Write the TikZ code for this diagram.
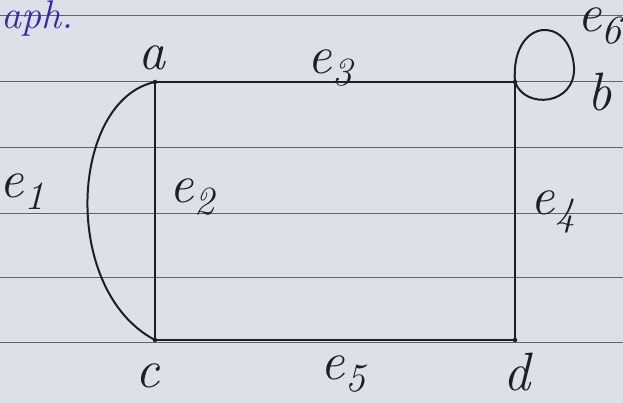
\documentclass[tikz,border=0pt]{standalone}
\usepackage{fontspec}
\definecolor{paper}{RGB}{220,225,233}
\definecolor{inkc}{RGB}{30,30,38}
\definecolor{rulec}{RGB}{95,100,110}
\definecolor{bluink}{RGB}{60,40,170}
\newcommand{\esub}[1]{e\raisebox{-0.22em}{\fontsize{40}{40}\selectfont #1}}
\begin{document}
\begin{tikzpicture}[x=1pt,y=-1pt,
  ink/.style={draw=inkc, line width=2pt},
  rule/.style={draw=rulec, line width=0.9pt},
  lbl/.style={text=inkc, inner sep=0pt, font=\fontsize{54}{54}\selectfont\itshape},
  vdot/.style={circle, fill=inkc, inner sep=0pt, minimum size=4.5pt}]
\useasboundingbox (0,0) rectangle (623,403);
\clip (0,0) rectangle (623,403);
\fill[paper] (0,0) rectangle (623,403);
% ruled lines
\foreach \yy in {15,81,147,213,277,342} \draw[rule] (0,\yy) -- (623,\yy);
% partial heading
\node[text=bluink, anchor=north west, inner sep=0pt, font=\fontsize{40}{40}\selectfont\itshape] (head) at (1,1) {aph.};
% vertices
\node[vdot] (a) at (155,82) {};
\node[vdot] (b) at (515,82) {};
\node[vdot] (c) at (155,340) {};
\node[vdot] (d) at (515,340) {};
% edges
\draw[ink] (a.center) .. controls (70,100) and (60,290) .. (c.center); % e1
\draw[ink] (a.center) -- (c.center); % e2
\draw[ink] (a.center) -- (b.center); % e3
\draw[ink] (b.center) -- (d.center); % e4
\draw[ink] (c.center) -- (d.center); % e5
\draw[ink] (b.center) .. controls (510,18) and (570,13) .. (574,67) .. controls (576,105) and (525,110) .. (b.center); % e6
% labels
\node[lbl] (la) at (152,58) {a};
\node[lbl] (lb) at (600,92) {b};
\node[lbl] (lc) at (148,376) {c};
\node[lbl] (ld) at (517,372) {d};
\node[lbl] (l1) at (22,192) {\esub{1}};
\node[lbl] (l2) at (192,197) {\esub{2}};
\node[lbl] (l3) at (330,68) {\esub{3}};
\node[lbl] (l4) at (553,212) {\esub{4}};
\node[lbl] (l5) at (343,374) {\esub{5}};
\node[lbl, anchor=east] (l6) at (622,26) {\esub{6}};
\end{tikzpicture}
\end{document}
